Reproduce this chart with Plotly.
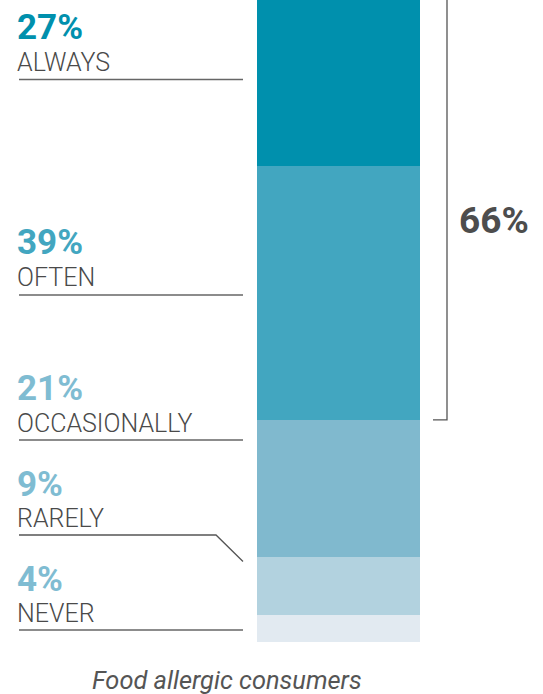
import plotly.graph_objects as go

# ---- data ----
categories = ["NEVER", "RARELY", "OCCASIONALLY", "OFTEN", "ALWAYS"]
shares = [4, 9, 21, 39, 27]
bar_colors = ["#e2eaf1", "#b2d2df", "#80b9ce", "#42a6c0", "#0090ad"]
pct_colors = ["#7fbcd2", "#7fbcd2", "#7fbcd2", "#42a6c0", "#0090ad"]
group_label = "Food allergic consumers"
bracket_cats = ["OFTEN", "ALWAYS"]

W, H = 543, 694


def px(x):
    return x / W


def py(y):
    return 1 - y / H


fig = go.Figure()
for cat, val, col in zip(categories, shares, bar_colors):
    fig.add_trace(go.Bar(
        x=[group_label], y=[val], name=cat, width=1,
        marker=dict(color=col, line=dict(width=0)),
        hoverinfo="skip",
    ))

# label positions in window pixels (pct center, word center, underline y)
label_pos = {
    "ALWAYS": (27, 62, 79.5),
    "OFTEN": (242, 278, 295),
    "OCCASIONALLY": (388.5, 423, 440),
    "RARELY": (484.5, 518, 535),
    "NEVER": (579, 613.5, 630),
}

annotations = []
shapes = []
for cat, val, pc in zip(categories, shares, pct_colors):
    yp, yw, yl = label_pos[cat]
    annotations.append(dict(
        x=px(15), y=py(yp), xref="paper", yref="paper", xanchor="left", yanchor="middle",
        text=f"{val}%", showarrow=False,
        font=dict(family="Roboto", size=35, color=pc, weight=700),
    ))
    annotations.append(dict(
        x=px(15), y=py(yw), xref="paper", yref="paper", xanchor="left", yanchor="middle",
        text=cat, showarrow=False,
        font=dict(family="Roboto", size=25, color="#4a4a4a", weight=300),
    ))
    if cat == "RARELY":
        shapes.append(dict(type="path", xref="paper", yref="paper",
                           path=f"M {px(19)},{py(yl)} L {px(216)},{py(yl)} L {px(243)},{py(561.5)}",
                           line=dict(color="#555555", width=1.3)))
    else:
        shapes.append(dict(type="line", xref="paper", yref="paper",
                           x0=px(19), x1=px(243), y0=py(yl), y1=py(yl),
                           line=dict(color="#666666", width=1.6)))

# bracket around OFTEN + ALWAYS
idx = [categories.index(c) for c in bracket_cats]
low = sum(shares[:min(idx)])
high = sum(shares[:max(idx) + 1])
bracket_total = sum(shares[i] for i in idx)
shapes.append(dict(type="path", xref="paper", yref="y",
                   path=f"M {px(433)},{low} L {px(447)},{low} L {px(447)},{high}",
                   line=dict(color="#555555", width=1.3)))
annotations.append(dict(
    x=px(457), y=py(220.5), xref="paper", yref="paper", xanchor="left", yanchor="middle",
    text=f"{bracket_total}%", showarrow=False,
    font=dict(family="Roboto", size=37, color="#4d4d4d", weight=700),
))
annotations.append(dict(
    x=px(226.5), y=py(680), xref="paper", yref="paper", xanchor="center", yanchor="middle",
    text=group_label, showarrow=False,
    font=dict(family="Roboto", size=25.4, color="#555555", style="italic"),
))

bar_center, bar_w = 338.5, 163.0
y0_px, px_per_unit = 641.5, 6.52
fig.update_layout(
    width=W, height=H,
    margin=dict(l=0, r=0, t=0, b=0),
    barmode="stack", bargap=0,
    showlegend=False,
    paper_bgcolor="white", plot_bgcolor="white",
    xaxis=dict(visible=False, range=[-bar_center / bar_w, (W - bar_center) / bar_w]),
    yaxis=dict(visible=False, range=[(y0_px - H) / px_per_unit, y0_px / px_per_unit]),
    annotations=annotations, shapes=shapes,
)

fig.write_html(
    "out.html",
    config={"displayModeBar": False, "staticPlot": True},
    post_script="document.body.style.margin='0';document.body.style.overflow='hidden';",
)
